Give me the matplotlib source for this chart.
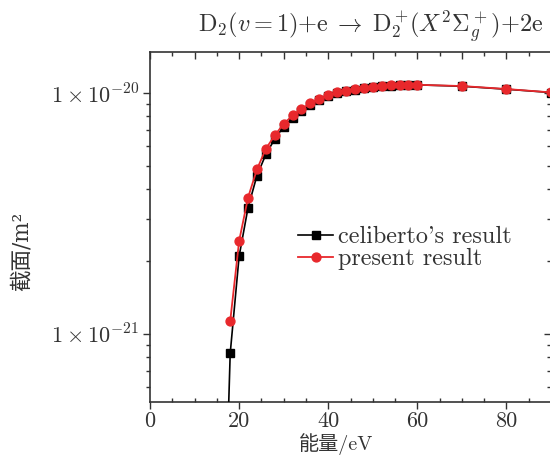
import numpy as np
import matplotlib
matplotlib.use("Agg")
import matplotlib.pyplot as plt
from matplotlib.ticker import MultipleLocator, LogLocator, FuncFormatter, NullFormatter

plt.rcParams['font.family'] = ['cmr10', 'Noto Sans CJK SC', 'DejaVu Sans']
plt.rcParams['mathtext.fontset'] = 'cm'
plt.rcParams['axes.unicode_minus'] = False

# energy (eV) and cross sections (m^2)
energy_ref = [17, 18, 20, 22, 24, 26, 28, 30, 32, 34, 36, 38, 40, 42, 44, 46, 48,
              50, 52, 54, 56, 58, 60, 70, 80, 90]
sigma_ref = [2.0e-22, 8.3e-22, 2.10e-21, 3.34e-21, 4.54e-21, 5.56e-21, 6.45e-21,
             7.25e-21, 7.88e-21, 8.42e-21, 8.92e-21, 9.32e-21, 9.70e-21, 9.97e-21,
             1.015e-20, 1.033e-20, 1.047e-20, 1.058e-20, 1.066e-20, 1.073e-20,
             1.077e-20, 1.080e-20, 1.081e-20, 1.067e-20, 1.037e-20, 1.005e-20]

energy_new = [18, 20, 22, 24, 26, 28, 30, 32, 34, 36, 38, 40, 42, 44, 46, 48,
              50, 52, 54, 56, 58, 60, 70, 80, 90]
sigma_new = [1.13e-21, 2.43e-21, 3.68e-21, 4.82e-21, 5.87e-21, 6.67e-21, 7.45e-21,
             8.07e-21, 8.59e-21, 9.07e-21, 9.45e-21, 9.81e-21, 1.006e-20, 1.022e-20,
             1.039e-20, 1.052e-20, 1.062e-20, 1.069e-20, 1.076e-20, 1.079e-20,
             1.082e-20, 1.082e-20, 1.069e-20, 1.039e-20, 1.006e-20]

gray = "#333333"
pos = [150/550, 64/466, 401/550, 350/466]
xlim = (0, 90)
ylim = (5.22e-22, 1.48e-20)

fig = plt.figure(figsize=(5.5, 4.66), dpi=100)

# overlay (drawn underneath) carrying the inward ticks on top and right
ov = fig.add_axes(pos, frameon=False)
ov.set_yscale("log")
ov.set_xlim(*xlim)
ov.set_ylim(*ylim)
ov.xaxis.set_major_locator(MultipleLocator(10))
ov.xaxis.set_minor_locator(MultipleLocator(5))
ov.yaxis.set_major_locator(LogLocator(base=10))
ov.yaxis.set_minor_locator(LogLocator(base=10, subs=np.arange(2, 10)))
for a in (ov.xaxis, ov.yaxis):
    a.set_major_formatter(NullFormatter())
    a.set_minor_formatter(NullFormatter())
ov.tick_params(which="both", bottom=False, left=False, top=True, right=True,
               labelbottom=False, labelleft=False, direction="in",
               colors=gray, width=1.0)
ov.tick_params(which="major", length=5)
ov.tick_params(which="minor", length=3)

ax = fig.add_axes(pos)
ax.patch.set_visible(False)

ax.plot(energy_ref, sigma_ref, color="black", lw=1.2, marker="s", ms=5.2,
        label="celiberto's result", zorder=3)
ax.plot(energy_new, sigma_new, color="#e8282c", lw=1.3, marker="o", ms=6.4,
        label="present result", zorder=4)

ax.set_yscale("log")
ax.set_xlim(*xlim)
ax.set_ylim(*ylim)

ax.xaxis.set_major_locator(MultipleLocator(20))
ax.xaxis.set_minor_locator(MultipleLocator(5))
ax.yaxis.set_major_locator(LogLocator(base=10))
ax.yaxis.set_minor_locator(LogLocator(base=10, subs=np.arange(2, 10)))
ax.yaxis.set_major_formatter(FuncFormatter(
    lambda v, p: r"$1\times10^{%d}$" % int(round(np.log10(v)))))
ax.yaxis.set_minor_formatter(NullFormatter())

for s in ax.spines.values():
    s.set_color(gray)
    s.set_linewidth(1.2)
ax.spines["right"].set_visible(False)

ax.tick_params(axis="both", which="both", colors=gray, labelcolor=gray,
               labelsize=16, width=1.0)
ax.tick_params(axis="x", which="major", direction="out", length=5, pad=2)
ax.tick_params(axis="x", which="minor", direction="in", length=3)
ax.tick_params(axis="y", which="major", direction="out", length=5, pad=3)
ax.tick_params(axis="y", which="minor", direction="out", length=3)

ax.set_xlabel("能量/eV", fontsize=14.5, color=gray)
ax.xaxis.set_label_coords(186/401, -31/350)
ax.set_ylabel("截面/m²", fontsize=15.5, color=gray,
              family=["DejaVu Serif", "Noto Sans CJK SC"])
ax.yaxis.set_label_coords(-117/401, 0.43)

fig.text(371/550, 1 - 27/466,
         r"$\mathrm{D}_2(v{=}1){+}\mathrm{e}\;\rightarrow\;\mathrm{D}_2^+\!(X^2\mathit{\Sigma}_g^+){+}2\mathrm{e}$",
         ha="center", va="center", fontsize=17.5, color=gray)

leg = ax.legend(loc="upper left", bbox_to_anchor=(148/401, 1 - 174/350),
                frameon=False, fontsize=17.5, handlelength=1.45, handletextpad=0.18,
                labelspacing=0.0, borderaxespad=0, borderpad=0)
for t in leg.get_texts():
    t.set_color(gray)

fig.savefig("out.png", dpi=100)
